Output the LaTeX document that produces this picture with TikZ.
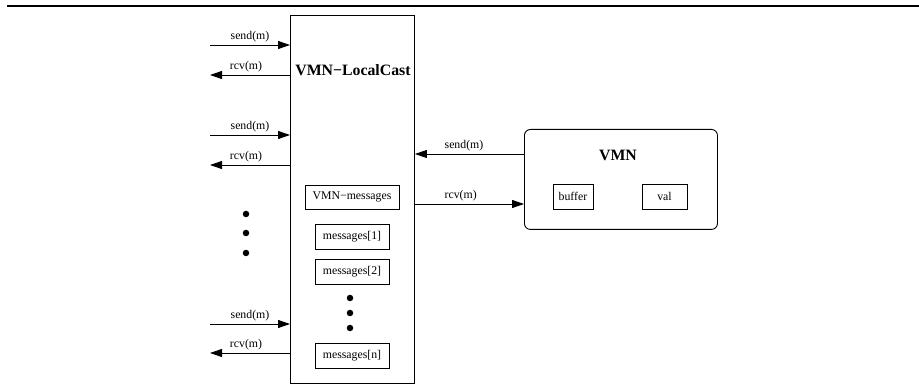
\documentclass[tikz,border=0pt]{standalone}
\usepackage{fontspec}
\setmainfont{Liberation Serif}
\usetikzlibrary{arrows.meta}
\begin{document}
\begin{tikzpicture}[x=1pt,y=-1pt,
  lbl/.style={font=\fontsize{11.8}{13}\selectfont, inner sep=0pt},
  ttl/.style={font=\fontsize{15.8}{18}\selectfont\bfseries, inner sep=0pt},
  mbox/.style={draw, line width=0.9pt, font=\fontsize{11.8}{13}\selectfont, inner sep=0pt},
  arr/.style={line width=0.9pt, -{Triangle[length=12pt,width=8pt]}},
  dot/.style={circle, fill, inner sep=0pt, minimum size=6.5pt}]
\useasboundingbox (0,0) rectangle (919,390);
\coordinate (rl) at (7,6);
\coordinate (rr) at (919,6);
\draw[line width=2.2pt] (rl) -- (rr);
% main box
\node[mbox, minimum width=124pt, minimum height=368pt, anchor=north west] (lc) at (290,15) {};
\node[ttl] (lct) at (353,70) {VMN\char"2212 LocalCast};
\node[mbox, minimum width=94pt, minimum height=24pt] (vm) at (352,197) {VMN\char"2212 messages};
\node[mbox, minimum width=74pt, minimum height=25pt] (m1) at (352,236.5) {messages[1]};
\node[mbox, minimum width=74pt, minimum height=25pt] (m2) at (352,271.5) {messages[2]};
\node[mbox, minimum width=74pt, minimum height=25pt] (mn) at (352,355.5) {messages[n]};
\node[dot] (d1) at (350,298) {};
\node[dot] (d2) at (350,313) {};
\node[dot] (d3) at (350,328) {};
\node[dot] (e1) at (246,214) {};
\node[dot] (e2) at (246,233) {};
\node[dot] (e3) at (246,253) {};
% left arrows
\foreach \i/\ys/\yr in {1/45/75, 2/135/165, 3/324/353}{
  \coordinate (s\i) at (210,\ys);
  \coordinate (r\i) at (210,\yr);
  \draw[arr] (s\i) -- (s\i -| lc.west) node[lbl, pos=0.5, above=3pt] {send(m)};
  \draw[arr] (r\i -| lc.west) -- (r\i) node[lbl, pos=0.55, above=3pt] {rcv(m)};
}
% VMN box
\node[draw, line width=0.9pt, rounded corners=6pt, minimum width=193pt, minimum height=100pt, anchor=north west] (vmn) at (524,129) {};
\node[ttl] (vmnt) at (618,155) {VMN};
\node[mbox, minimum width=40pt, minimum height=25pt] (buf) at (573,196.5) {buffer};
\node[mbox, minimum width=45pt, minimum height=25pt] (val) at (664.5,196.5) {val};
\coordinate (vs) at (524,154);
\coordinate (vr) at (524,204);
\draw[arr] (vs) -- (vs -| lc.east) node[lbl, pos=0.55, above=3pt] {send(m)};
\draw[arr] (vr -| lc.east) -- (vr) node[lbl, pos=0.42, above=3pt] {rcv(m)};
\end{tikzpicture}
\end{document}
